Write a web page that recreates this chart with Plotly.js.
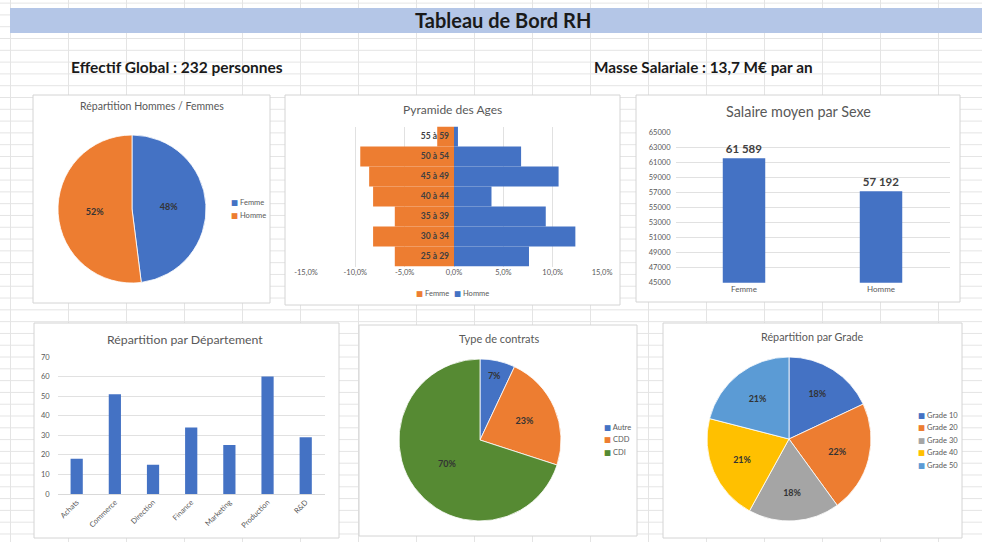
<!DOCTYPE html>
<html>
<head>
<meta charset="utf-8">
<script src="https://cdn.plot.ly/plotly-3.0.1.min.js"></script>
<style>
  html, body { margin: 0; padding: 0; background: #ffffff; }
  #wrap {
    position: relative; width: 982px; height: 542px; overflow: hidden;
    background-color: #ffffff;
    background-image:
      linear-gradient(to right, #e4e4e4 1px, transparent 1px),
      linear-gradient(to bottom, #e4e4e4 1px, transparent 1px);
    background-size: 58px 100%, 100% 11.8px;
    background-position: 10px 0, 0 97px;
  }
  #chart { position: absolute; left: 0; top: 0; width: 982px; height: 542px; }
</style>
</head>
<body>
<div id="wrap"><div id="chart"></div></div>
<script>
// ---------------- DATA ----------------
const dashboardTitle = "Tableau de Bord RH";
const kpiEffectif = "Effectif Global : 232 personnes";
const kpiMasse = "Masse Salariale : 13,7 M€ par an";

// Répartition Hommes / Femmes
const sexeLabels = ["Femme", "Homme"];
const sexeValues = [48, 52];

// Pyramide des âges (% of staff)
const ageGroups = ["25 à 29", "30 à 34", "35 à 39", "40 à 44", "45 à 49", "50 à 54", "55 à 59"];
const femmeAge = [-6.0, -8.2, -6.0, -8.2, -8.6, -9.5, -1.7];
const hommeAge = [7.6, 12.3, 9.3, 3.8, 10.6, 6.8, 0.4];
const pyramidTicks = [-15, -10, -5, 0, 5, 10, 15];
const pyramidTickText = ["-15,0%", "-10,0%", "-5,0%", "0,0%", "5,0%", "10,0%", "15,0%"];

// Salaire moyen par sexe
const salaireLabels = ["Femme", "Homme"];
const salaireValues = [61589, 57192];

// Répartition par département
const deptLabels = ["Achats", "Commerce", "Direction", "Finance", "Marketing", "Production", "R&D"];
const deptValues = [18, 51, 15, 34, 25, 60, 29];

// Type de contrats
const contratLabels = ["Autre", "CDD", "CDI"];
const contratValues = [7, 23, 70];

// Répartition par grade
const gradeLabels = ["Grade 10", "Grade 20", "Grade 30", "Grade 40", "Grade 50"];
const gradeValues = [18, 22, 18, 21, 21];

// ---------------- STYLE ----------------
const BLUE = "#4472c4", ORANGE = "#ed7d31", GREY = "#a5a5a5", GOLD = "#ffc000", LBLUE = "#5b9bd5", GREEN = "#568a33";
const sexeColors = [BLUE, ORANGE];
const contratColors = [BLUE, ORANGE, GREEN];
const gradeColors = [BLUE, ORANGE, GREY, GOLD, LBLUE];
const TXT = "#595959", GRID = "#d9d9d9";
const FONT = "Lato, 'DejaVu Sans', sans-serif";

const W = 982, H = 542;
const fx = v => v / W;
const fy = v => 1 - v / H;
const dx = (a, b) => [fx(a), fx(b)];
const dy = (top, bottom) => [fy(bottom), fy(top)];

const pieText = {size: 9, color: "#333333", family: FONT, weight: "bold"};

const traces = [
  // Pie Hommes/Femmes
  {type: "pie", labels: sexeLabels, values: sexeValues, sort: false, direction: "clockwise", rotation: 0,
   marker: {colors: sexeColors, line: {color: "#ffffff", width: 0.8}},
   domain: {x: dx(58, 206), y: dy(135, 283)},
   texttemplate: "%{percent:.0%}", textposition: "inside", insidetextorientation: "horizontal",
   textfont: pieText, hoverinfo: "none", showlegend: false},
  // Pyramid
  {type: "bar", orientation: "h", y: ageGroups, x: femmeAge, name: "Femme", width: 1,
   marker: {color: ORANGE}, xaxis: "x", yaxis: "y", hoverinfo: "none", showlegend: false},
  {type: "bar", orientation: "h", y: ageGroups, x: hommeAge, name: "Homme", width: 1,
   marker: {color: BLUE}, xaxis: "x", yaxis: "y", hoverinfo: "none", showlegend: false},
  // Salaire
  {type: "bar", x: salaireLabels, y: salaireValues, width: 0.31, marker: {color: BLUE},
   texttemplate: "<b>%{y:,}</b>", textposition: "outside",
   textfont: {size: 11.5, color: "#404040", family: FONT}, cliponaxis: false,
   xaxis: "x2", yaxis: "y2", hoverinfo: "none", showlegend: false},
  // Département
  {type: "bar", x: deptLabels, y: deptValues, width: 0.32, marker: {color: BLUE},
   xaxis: "x3", yaxis: "y3", hoverinfo: "none", showlegend: false},
  // Contrats
  {type: "pie", labels: contratLabels, values: contratValues, sort: false, direction: "clockwise", rotation: 0,
   marker: {colors: contratColors, line: {color: "#ffffff", width: 0.8}},
   domain: {x: dx(399, 561), y: dy(359, 521)},
   texttemplate: "%{percent:.0%}", textposition: "inside", insidetextorientation: "horizontal",
   textfont: pieText, hoverinfo: "none", showlegend: false},
  // Grades
  {type: "pie", labels: gradeLabels, values: gradeValues, sort: false, direction: "clockwise", rotation: 0,
   marker: {colors: gradeColors, line: {color: "#ffffff", width: 0.8}},
   domain: {x: dx(707, 871), y: dy(357, 521)},
   texttemplate: "%{percent:.0%}", textposition: "inside", insidetextorientation: "horizontal",
   textfont: pieText, hoverinfo: "none", showlegend: false}
];

const tickFont = {size: 7.5, color: TXT, family: FONT};

// panels
const panels = [
  [33, 95, 270, 303], [285, 95, 620, 305], [636, 95, 960, 302],
  [34, 323, 339, 538], [359, 325, 637, 536], [663, 323, 962, 538]
];
const shapes = [
  {type: "rect", xref: "paper", yref: "paper", x0: fx(10), x1: fx(982), y0: fy(33), y1: fy(8),
   fillcolor: "#b4c6e7", line: {width: 0}, layer: "below"}
];
panels.forEach(p => shapes.push({type: "rect", xref: "paper", yref: "paper",
  x0: fx(p[0]), x1: fx(p[2]), y0: fy(p[3]), y1: fy(p[1]),
  fillcolor: "#ffffff", line: {color: "#d4d4d4", width: 1}, layer: "below"}));

const ann = [];
function addText(text, x, y, size, color, anchor, bold) {
  ann.push({xref: "paper", yref: "paper", x: fx(x), y: fy(y), text: bold ? "<b>" + text + "</b>" : text,
    showarrow: false, xanchor: anchor || "center", yanchor: "middle",
    font: {size: size, color: color, family: FONT}});
}
addText(dashboardTitle, 503, 20, 20, "#1a1a1a", "center", true);
addText(kpiEffectif, 69, 67, 15.5, "#1a1a1a", "left", true);
addText(kpiMasse, 592, 67, 15.3, "#1a1a1a", "left", true);

addText("Répartition Hommes / Femmes", 152, 106, 10.5, TXT);
addText("Pyramide des Ages", 452, 109, 12, TXT);
addText("Salaire moyen par Sexe", 798, 112, 14.4, TXT);
addText("Répartition par Département", 185, 339, 12.3, TXT);
addText("Type de contrats", 499, 338, 11, TXT);
addText("Répartition par Grade", 812, 336, 10.8, TXT);

function legendItem(label, color, x, y) {
  ann.push({xref: "paper", yref: "paper", x: fx(x), y: fy(y),
    text: '<span style="color:' + color + '">■</span> ' + label,
    showarrow: false, xanchor: "left", yanchor: "middle",
    font: {size: 7.5, color: TXT, family: FONT}});
}
sexeLabels.forEach((l, i) => legendItem(l, sexeColors[i], 229, 203 + i * 12.5));
legendItem("Femme", ORANGE, 414, 293);
legendItem("Homme", BLUE, 452, 293);
contratLabels.forEach((l, i) => legendItem(l, contratColors[i], 602, 427 + i * 12.7));
gradeLabels.forEach((l, i) => legendItem(l, gradeColors[i], 916, 415 + i * 12.6));

const layout = {
  width: W, height: H, margin: {l: 0, r: 0, t: 0, b: 0},
  paper_bgcolor: "rgba(0,0,0,0)", plot_bgcolor: "rgba(0,0,0,0)",
  showlegend: false, barmode: "relative", separators: ", ",
  font: {family: FONT, color: TXT},
  xaxis: {domain: dx(306, 602), anchor: "y", range: [-15, 15], tickmode: "array",
    tickvals: pyramidTicks, ticktext: pyramidTickText,
    showgrid: true, gridcolor: GRID, gridwidth: 0.8,
    zeroline: false, showline: false, ticks: "", tickfont: tickFont, fixedrange: true},
  yaxis: {domain: dy(126.5, 266.5), anchor: "free", position: fx(454), type: "category",
    showgrid: false, zeroline: false, showline: false, ticks: "", ticklabelstandoff: 5,
    tickfont: {size: 8.5, color: "#404040", family: FONT, weight: "bold"}, fixedrange: true},
  xaxis2: {domain: dx(675.5, 949.5), anchor: "y2", type: "category", ticks: "",
    showline: false, tickfont: {size: 8, color: TXT, family: FONT}, fixedrange: true},
  yaxis2: {domain: dy(132.7, 282.7), anchor: "x2", range: [45000, 65000], tick0: 45000, dtick: 2000,
    tickformat: "d", showgrid: true, gridcolor: GRID, gridwidth: 0.8, zeroline: false,
    ticks: "", ticklabelstandoff: 4, tickfont: tickFont, fixedrange: true},
  xaxis3: {domain: dx(57.6, 324.8), anchor: "y3", type: "category", ticks: "", tickangle: -45,
    showline: true, linecolor: GRID, tickfont: {size: 7.5, color: TXT, family: FONT}, fixedrange: true},
  yaxis3: {domain: dy(357, 494), anchor: "x3", range: [0, 70], dtick: 10, showgrid: true,
    gridcolor: GRID, gridwidth: 0.8, zeroline: false, ticks: "", ticklabelstandoff: 7,
    tickfont: tickFont, fixedrange: true},
  shapes: shapes,
  annotations: ann
};

Plotly.newPlot("chart", traces, layout, {staticPlot: true, displayModeBar: false});
</script>
</body>
</html>
